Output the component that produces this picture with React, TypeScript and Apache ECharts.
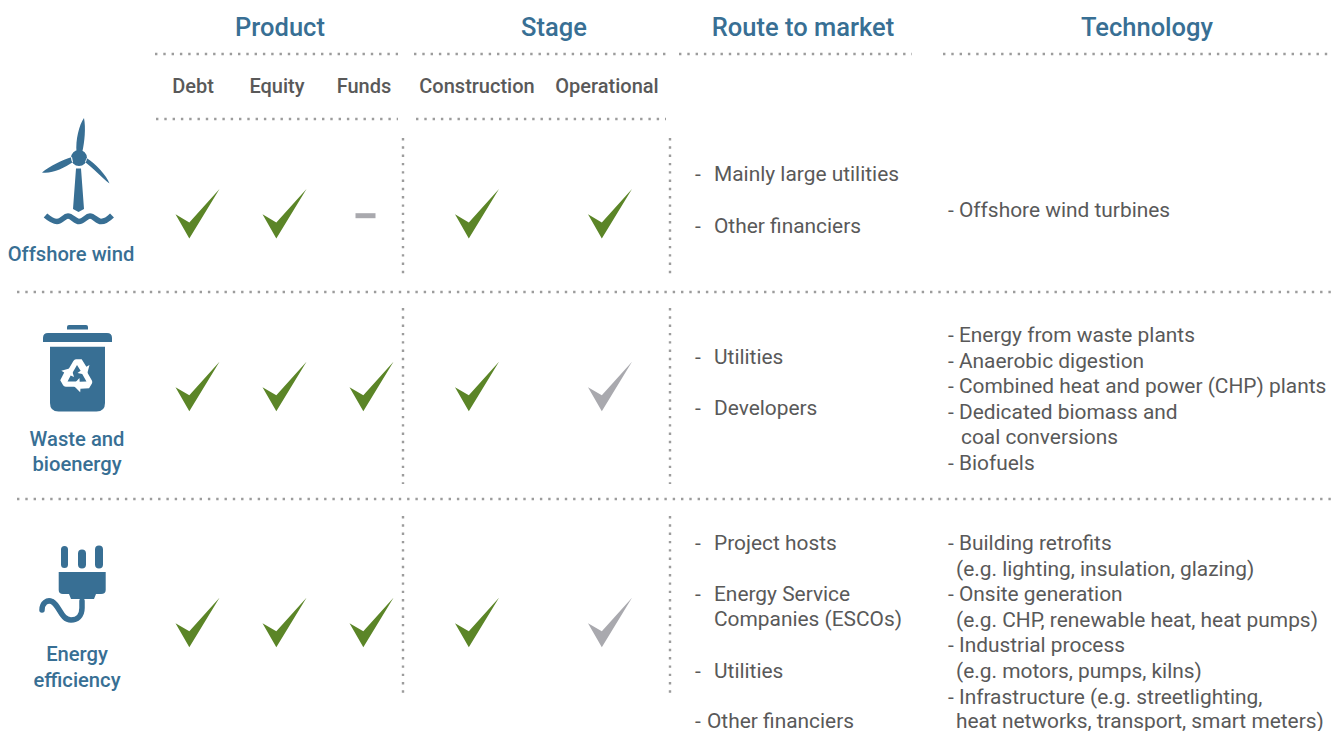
import React, { useEffect, useRef } from "react";
import * as echarts from "echarts";

const sectors = ["Offshore wind", "Waste and bioenergy", "Energy efficiency"];
const productColumns = ["Debt", "Equity", "Funds"];
const stageColumns = ["Construction", "Operational"];
const groupHeaders = ["Product", "Stage", "Route to market", "Technology"];

// 2 = available (green tick), 1 = limited (grey tick), 0 = none (grey dash)
const productStatus = [
  [2, 2, 0],
  [2, 2, 2],
  [2, 2, 2],
];
const stageStatus = [
  [2, 2],
  [2, 1],
  [2, 1],
];

const routeToMarket = [
  ["Mainly large utilities", "Other financiers"],
  ["Utilities", "Developers"],
  ["Project hosts", "Energy Service", "Companies (ESCOs)", "Utilities", "Other financiers"],
];
const technology = [
  ["- Offshore wind turbines"],
  [
    "- Energy from waste plants",
    "- Anaerobic digestion",
    "- Combined heat and power (CHP) plants",
    "- Dedicated biomass and",
    "coal conversions",
    "- Biofuels",
  ],
  [
    "- Building retrofits",
    "(e.g. lighting, insulation, glazing)",
    "- Onsite generation",
    "(e.g. CHP, renewable heat, heat pumps)",
    "- Industrial process",
    "(e.g. motors, pumps, kilns)",
    "- Infrastructure (e.g. streetlighting,",
    "heat networks, transport, smart meters)",
  ],
];

/* ---------- layout and style ---------- */
const BLUE = "#386f94";
const GREY_TEXT = "#595959";
const GREEN = "#5b8527";
const GREY_MARK = "#a9a9ae";
const DOT = "#9c9c9c";
const FONT = "Roboto";
const TICK = "path://M0 25.3 L13.6 33.3 L43.3 0 L13.6 49.3 Z";

const rowCentres = [213.7, 386.5, 622.5];
const columnGroups = [
  { left: 154, width: 261, names: productColumns, status: productStatus },
  { left: 410.5, width: 266, names: stageColumns, status: stageStatus },
];

const headerX = [280, 554, 803, 1147];
const subHeaderX = [193, 277, 364, 477, 607];
const routeY = [
  [174, 226],
  [357, 408],
  [543, 594, 619, 671, 720.5],
];
const routeContinuation = "Companies (ESCOs)";
const techStartY = [210, 335, 543];
const techStep = 25.6;
const maxTextY = 720.5;

const hLines: number[][] = [
  [155, 398, 54],
  [414, 666, 54],
  [679, 912, 54],
  [943, 1333, 54],
  [156, 398, 119],
  [416, 666, 119],
  [17, 1333, 292],
  [17, 1333, 499],
];
const vLines: number[][] = [
  [403, 138, 275],
  [670, 138, 275],
  [403, 308, 484],
  [670, 308, 484],
  [403, 516, 695],
  [670, 516, 695],
];

const ICON_TURBINE =
  "M76.5 152 C75.5 140 79 125 84 118 C86 128 84.5 142 82.5 151 Z " +
  "M72 157 C62 160 50 166 42 172.5 C52 174 64 168 73 162 Z " +
  "M85 162 C92 167 102 178 109.5 183.5 C107 176 95 163 86.5 158 Z " +
  "M87 158 A8 8 0 1 1 71 158 A8 8 0 1 1 87 158 Z " +
  "M76 168.5 L81 168.5 L84 209 L78.5 212 L73 209 Z";
const ICON_WAVE =
  "M45.5 215.5 C49 218.5 53 221.5 57 221.5 C62 221.5 64 216 68 216 C72 216 75 221.5 79 221.5 C84 221.5 86 216 90 216 C94 216 97 221.5 101 221.5 C105 221.5 109 218.5 112 215.5";
const ICON_BIN =
  "M67 329.5 L67 327 Q67 325 69 325 L86 325 Q88 325 88 327 L88 329.5 Z " +
  "M43 342 L43 338 Q43 333 48 333 L107 333 Q112 333 112 338 L112 342 Z " +
  "M50 346.7 L105 346.7 L105 403 Q105 411.5 96.5 411.5 L58.5 411.5 Q50 411.5 50 403 Z";
const ICON_ARROW =
  "M-9 -5 L-3.5 -14.5 Q-2.5 -16 -1 -16 L4.5 -16 L9 -9 L12 -10.5 L9.5 -1 L0.5 -3 L3.5 -5 L0 -10.5 L-5 -2 Z";
const ICON_PLUG =
  "M61 549.5 A3.5 3.5 0 0 1 68 549.5 L68 564.5 A3.5 3.5 0 0 1 61 564.5 Z " +
  "M78 553.5 A4 4 0 0 1 86 553.5 L86 564.5 A4 4 0 0 1 78 564.5 Z " +
  "M95 549.5 A4 4 0 0 1 103 549.5 L103 564.5 A4 4 0 0 1 95 564.5 Z " +
  "M58.7 572 L105.7 572 L105.7 590 Q105.7 594 101 594 L96 594 L94 599 L71 599 L69 594 L63 594 Q58.7 594 58.7 590 Z";
const ICON_CABLE =
  "M82 601 L82 608 C82 616 77 620 71 620 C61 620 60 606 52 601.5 C47 599.5 42 603 42 610";

echarts.graphic.registerShape("iconTurbine", echarts.graphic.extendPath(ICON_TURBINE, {}) as any);
echarts.graphic.registerShape("iconWave", echarts.graphic.extendPath(ICON_WAVE, {}) as any);
echarts.graphic.registerShape("iconBin", echarts.graphic.extendPath(ICON_BIN, {}) as any);
echarts.graphic.registerShape("iconArrow", echarts.graphic.extendPath(ICON_ARROW, {}) as any);
echarts.graphic.registerShape("iconPlug", echarts.graphic.extendPath(ICON_PLUG, {}) as any);
echarts.graphic.registerShape("iconCable", echarts.graphic.extendPath(ICON_CABLE, {}) as any);

function text(
  str: string,
  x: number,
  y: number,
  size: number,
  fill: string,
  weight: number | string = 400,
  align = "left"
) {
  return {
    type: "text",
    silent: true,
    style: {
      x,
      y,
      text: str,
      fill,
      fontFamily: FONT,
      fontSize: size,
      fontWeight: weight,
      align,
      verticalAlign: "middle",
    },
  };
}

function dotted(x1: number, y1: number, x2: number, y2: number) {
  return {
    type: "line",
    silent: true,
    shape: { x1, y1, x2, y2 },
    style: { stroke: DOT, lineWidth: 2.4, lineDash: [2.4, 5.9] },
  };
}

function buildGraphics() {
  const els: any[] = [];
  hLines.forEach(([a, b, y]) => els.push(dotted(a, y, b, y)));
  vLines.forEach(([x, a, b]) => els.push(dotted(x, a, x, b)));

  groupHeaders.forEach((h, i) => els.push(text(h, headerX[i], 27, 25.5, BLUE, 500, "center")));
  [...productColumns, ...stageColumns].forEach((h, i) =>
    els.push(text(h, subHeaderX[i], 86, 20, GREY_TEXT, 500, "center"))
  );

  els.push(text("Offshore wind", 71, 254, 20.2, BLUE, 500, "center"));
  els.push(text("Waste and", 77, 439, 20.2, BLUE, 500, "center"));
  els.push(text("bioenergy", 77, 464, 20.2, BLUE, 500, "center"));
  els.push(text("Energy", 77, 654, 20.2, BLUE, 500, "center"));
  els.push(text("efficiency", 77, 680, 20.2, BLUE, 500, "center"));

  routeToMarket.forEach((list, r) =>
    list.forEach((line, i) => {
      const y = routeY[r][i];
      const lastOther = r === 2 && i === list.length - 1;
      if (line !== routeContinuation) {
        els.push(text("-", 695, y, 20.9, GREY_TEXT));
      }
      els.push(text(line, lastOther ? 707 : 714, y, 20.9, GREY_TEXT));
    })
  );

  technology.forEach((list, r) =>
    list.forEach((line, i) => {
      const x = line.startsWith("-") ? 948 : line.startsWith("coal") ? 961 : 956;
      const y = Math.min(techStartY[r] + i * techStep, maxTextY);
      els.push(text(line, x, y, 20.9, GREY_TEXT));
    })
  );

  const blueFill = { fill: BLUE };
  els.push({ type: "iconTurbine", silent: true, style: blueFill });
  els.push({
    type: "iconWave",
    silent: true,
    style: { fill: "none", stroke: BLUE, lineWidth: 5.5 },
  });
  els.push({ type: "iconBin", silent: true, style: blueFill });
  [0, 120, 240].forEach((deg) =>
    els.push({
      type: "iconArrow",
      silent: true,
      x: 77,
      y: 376,
      scaleX: 1.04,
      scaleY: 1.04,
      rotation: (-deg * Math.PI) / 180,
      style: { fill: "#ffffff" },
    })
  );
  els.push({ type: "iconPlug", silent: true, style: blueFill });
  els.push({
    type: "iconCable",
    silent: true,
    style: { fill: "none", stroke: BLUE, lineWidth: 5.5, lineCap: "round" },
  });
  return els;
}

function buildOption() {
  const grid: any[] = [];
  const xAxis: any[] = [];
  const yAxis: any[] = [];
  const series: any[] = [];
  columnGroups.forEach((g) =>
    sectors.forEach((sector, r) => {
      const idx = grid.length;
      grid.push({ left: g.left, width: g.width, top: rowCentres[r] - 25, height: 50 });
      xAxis.push({ type: "category", gridIndex: idx, data: g.names, show: false });
      yAxis.push({ type: "category", gridIndex: idx, data: [sector], show: false });
      series.push({
        type: "scatter",
        xAxisIndex: idx,
        yAxisIndex: idx,
        silent: true,
        data: g.names.map((name, c) => {
          const s = g.status[r][c];
          return s === 0
            ? {
                value: [name, sector, s],
                symbol: "rect",
                symbolSize: [20, 5],
                symbolOffset: [-6, 2],
                itemStyle: { color: GREY_MARK, opacity: 1 },
              }
            : {
                value: [name, sector, s],
                symbol: TICK,
                symbolSize: [44, 49.5],
                itemStyle: { color: s === 2 ? GREEN : GREY_MARK, opacity: 1 },
              };
        }),
      });
    })
  );
  return {
    animation: false,
    backgroundColor: "#ffffff",
    grid,
    xAxis,
    yAxis,
    series,
    graphic: buildGraphics(),
  };
}

export default function App() {
  const ref = useRef<HTMLDivElement>(null);
  useEffect(() => {
    const chart = echarts.init(ref.current!, undefined, { renderer: "svg" });
    chart.setOption(buildOption() as any);
    return () => chart.dispose();
  }, []);
  return (
    <div
      ref={ref}
      style={{ position: "absolute", left: 0, top: 0, width: 1333, height: 731 }}
    />
  );
}
